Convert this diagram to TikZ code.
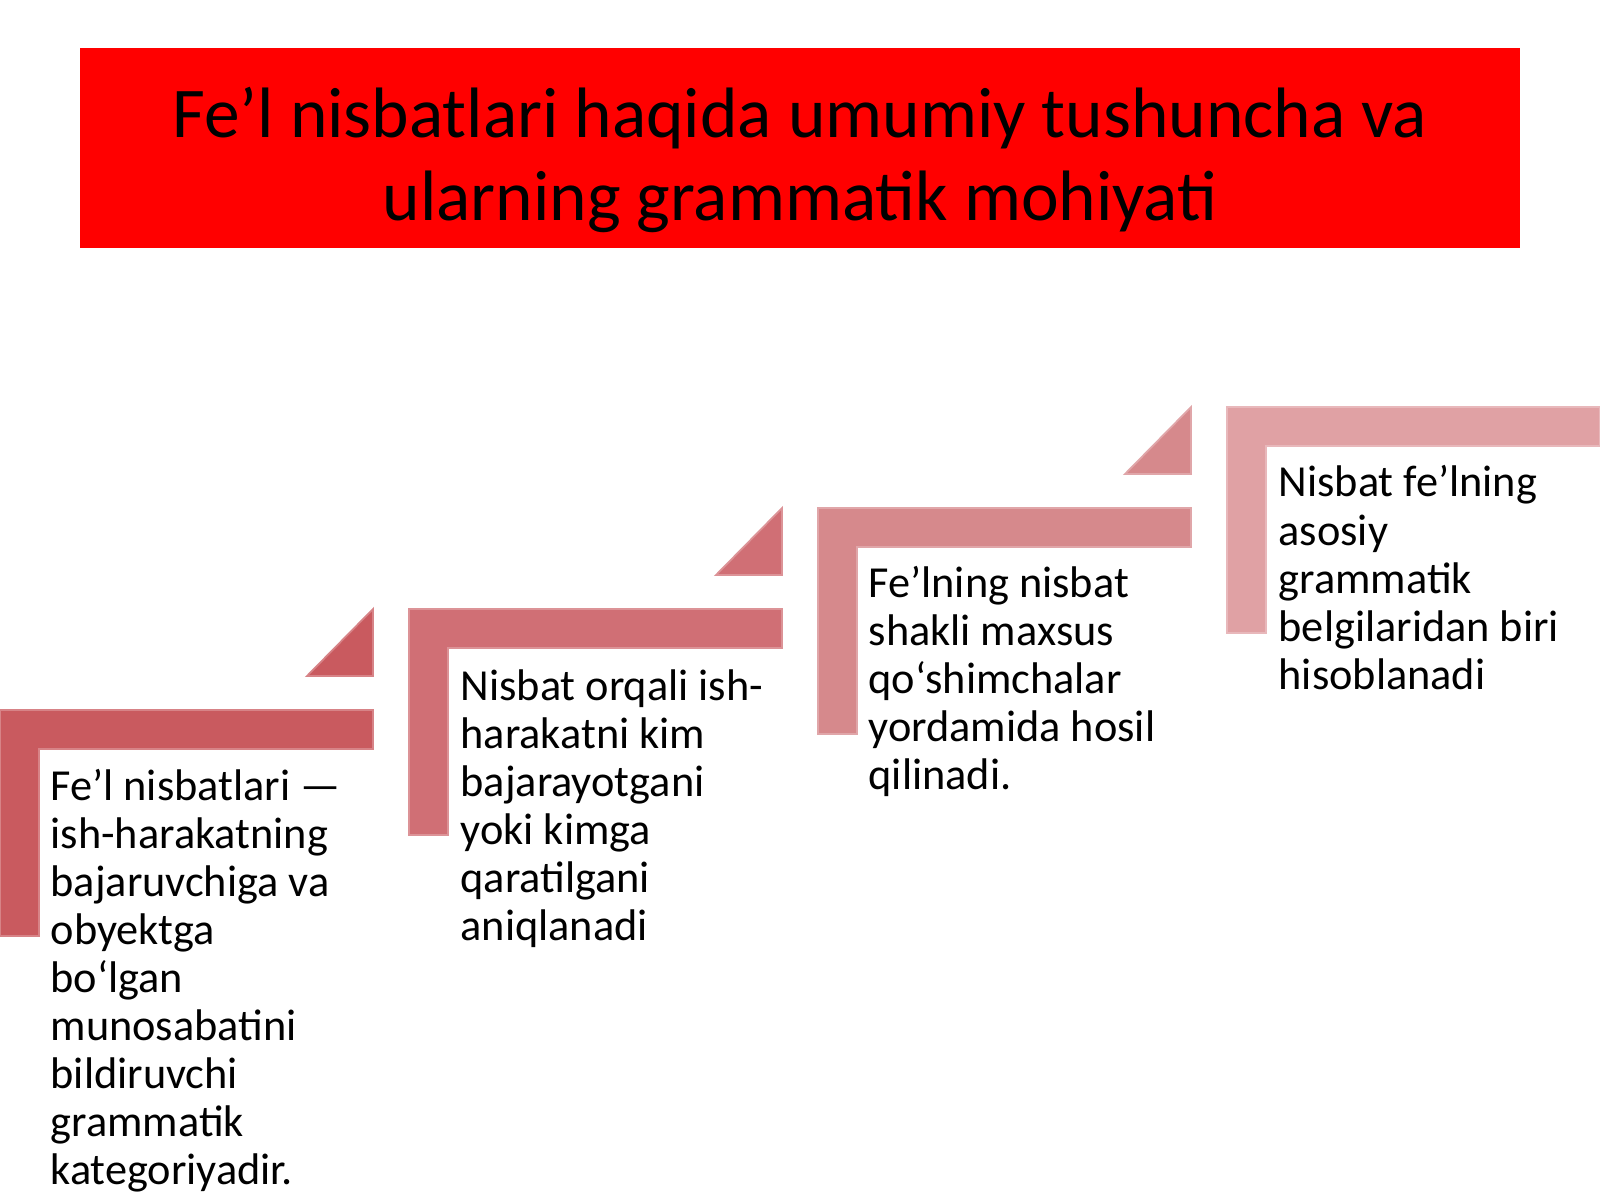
\documentclass[tikz,border=0pt]{standalone}
\usepackage{fontspec}
\setmainfont{Carlito}
\definecolor{titlered}{HTML}{FF0000}
\definecolor{stepa}{HTML}{C95A5F}
\definecolor{stepb}{HTML}{D06F75}
\definecolor{stepc}{HTML}{D6898C}
\definecolor{stepd}{HTML}{E0A1A4}
\tikzset{
  steptext/.style={anchor=base west,inner sep=0pt,align=left,font=\fontsize{12.6}{13.65}\selectfont},
  stepshape/.style={fill=#1,draw=#1!75!white,line width=0.5pt}
}
\begin{document}
\begin{tikzpicture}[x=0.01cm,y=-0.01cm]
    \useasboundingbox (0,0) rectangle (1600,1200);
    \fill[white] (0,0) rectangle (1600,1200);
    \fill[titlered] (80,48) rectangle (1520,248);
    \node[inner sep=0pt,align=center,font=\fontsize{20.3}{23.5}\selectfont] (title) at (800,160)
        {Fe’l nisbatlari haqida umumiy tushuncha va\\ularning grammatik mohiyati};
    \foreach \i/\c/\r in {0/stepa/373,1/stepb/373,2/stepc/373,3/stepd/500} {
        \pgfmathsetmacro{\L}{409*\i}
        \pgfmathsetmacro{\T}{710-101*\i}
        \pgfmathsetmacro{\R}{min(\L+\r,1600)}
        \filldraw[stepshape=\c] (\L,\T) -- (\R,\T) -- (\R,\T+39) -- (\L+39,\T+39)
            -- (\L+39,\T+226) -- (\L,\T+226) -- cycle;
        \ifnum\i<3
            \filldraw[stepshape=\c] (\R-66,\T-34) -- (\R,\T-34) -- (\R,\T-101) -- cycle;
        \fi
    }
    \node[steptext] (txt1) at (50,1184) {Fe’l nisbatlari —\\ish-harakatning\\bajaruvchiga va\\obyektga\\bo‘lgan\\munosabatini\\bildiruvchi\\grammatik\\kategoriyadir.};
    \node[steptext] (txt2) at (460,940) {Nisbat orqali ish-\\harakatni kim\\bajarayotgani\\yoki kimga\\qaratilgani\\aniqlanadi};
    \node[steptext] (txt3) at (868,789) {Fe’lning nisbat\\shakli maxsus\\qo‘shimchalar\\yordamida hosil\\qilinadi.};
    \node[steptext] (txt4) at (1278,689) {Nisbat fe’lning\\asosiy\\grammatik\\belgilaridan biri\\hisoblanadi};
\end{tikzpicture}
\end{document}
